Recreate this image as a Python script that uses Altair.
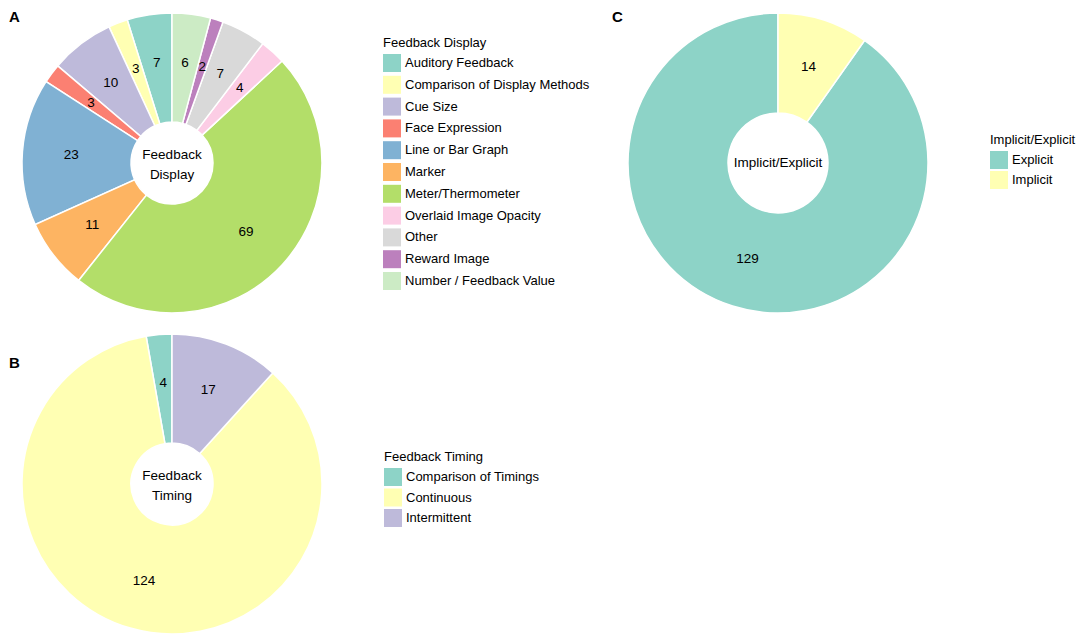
import altair as alt
import pandas as pd

FONT = "Liberation Sans"
SET3 = ["#8DD3C7", "#FFFFB3", "#BEBADA", "#FB8072", "#80B1D3", "#FDB462",
        "#B3DE69", "#FCCDE5", "#D9D9D9", "#BC80BD", "#CCEBC5"]

# Panel A: Feedback Display
display_cats = ["Auditory Feedback", "Comparison of Display Methods", "Cue Size",
                "Face Expression", "Line or Bar Graph", "Marker", "Meter/Thermometer",
                "Overlaid Image Opacity", "Other", "Reward Image", "Number / Feedback Value"]
display_vals = [7, 3, 10, 3, 23, 11, 69, 4, 7, 2, 6]

# Panel B: Feedback Timing
timing_cats = ["Comparison of Timings", "Continuous", "Intermittent"]
timing_vals = [4, 124, 17]

# Panel C: Implicit/Explicit
ie_cats = ["Explicit", "Implicit"]
ie_vals = [129, 14]


def donut(cats, vals, title, cx, cy, inner, center_lines, lx, ly, row_pad):
    n = len(cats)
    df = pd.DataFrame({"cat": cats, "n": vals, "ord": list(range(n))[::-1]})
    base = alt.Chart(df).encode(
        theta=alt.Theta("n:Q", stack=True),
        order=alt.Order("ord:Q", sort="ascending"),
    )
    arc = base.mark_arc(innerRadius=inner, outerRadius=150, stroke="white",
                        strokeWidth=1.5).encode(
        x=alt.value(cx), y=alt.value(cy),
        color=alt.Color("cat:N", sort=cats,
                        scale=alt.Scale(domain=cats, range=SET3[:n]),
                        legend=alt.Legend(title=title, orient="none",
                                          legendX=lx, legendY=ly,
                                          rowPadding=row_pad)),
    )
    labels = base.mark_text(radius=101, font=FONT, fontSize=13.5,
                            color="black").encode(
        x=alt.value(cx), y=alt.value(cy), text="n:Q")
    dy = -8 if len(center_lines) > 1 else 0
    center = alt.Chart(pd.DataFrame({"k": [0]})).mark_text(
        text=center_lines, font=FONT, fontSize=13.5, color="black",
        lineHeight=20, baseline="middle", align="center", dy=dy
    ).encode(x=alt.value(cx), y=alt.value(cy))
    return [arc, labels, center]


def letter(ch, x, y):
    return alt.Chart(pd.DataFrame({"k": [0]})).mark_text(
        text=ch, font=FONT, fontSize=15, fontWeight="bold", color="black",
        align="left", baseline="top"
    ).encode(x=alt.value(x), y=alt.value(y))


layers = []
layers += donut(display_cats, display_vals, "Feedback Display", 164, 155, 41,
                ["Feedback", "Display"], 375, 29, 3.8)
layers += donut(timing_cats, timing_vals, "Feedback Timing", 164, 476, 41,
                ["Feedback", "Timing"], 376, 443, 2.5)
layers += donut(ie_cats, ie_vals, "Implicit/Explicit", 770, 155, 50,
                ["Implicit/Explicit"], 982, 126, 2)
layers += [letter("A", 1, 2), letter("B", 1, 348), letter("C", 604, 2)]

chart = alt.layer(*layers).resolve_scale(
    theta="independent", color="independent"
).properties(
    width=1068, height=628, padding=0,
    autosize=alt.AutoSizeParams(type="none"),
).configure_view(stroke=None).configure_legend(
    titleFont=FONT, labelFont=FONT, titleFontSize=13, labelFontSize=13,
    titleFontWeight="normal", titleColor="black", labelColor="black",
    symbolType="square", symbolSize=324, symbolStrokeWidth=0,
    symbolOpacity=1, labelOffset=4, titlePadding=4, padding=0,
    labelLimit=0, titleLimit=0,
)

chart.save("out.html", embed_options={"renderer": "svg", "actions": False})
